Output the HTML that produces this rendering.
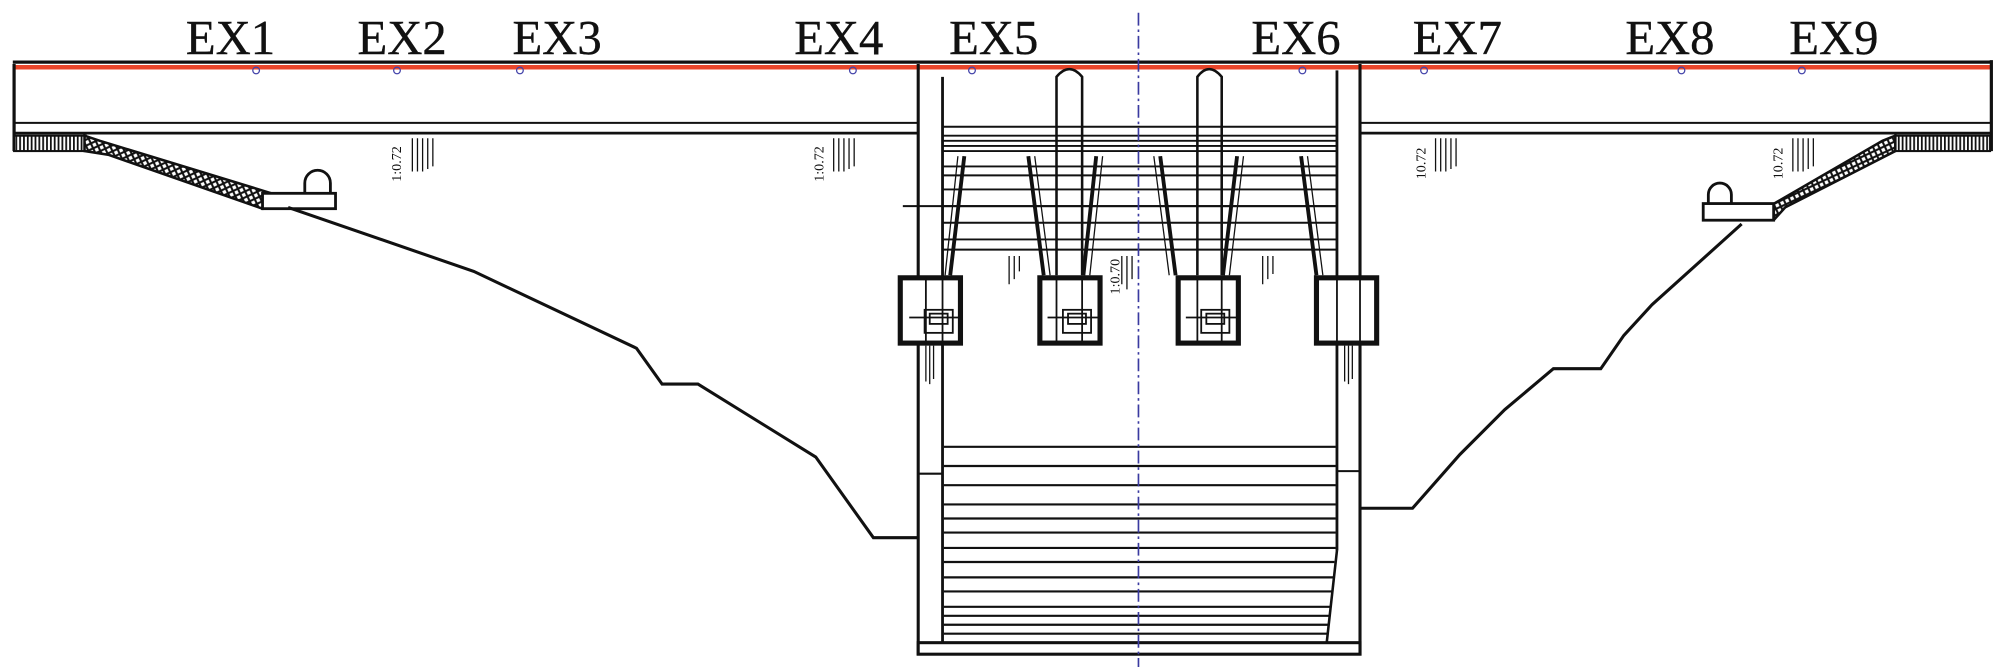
<!DOCTYPE html>
<html><head><meta charset="utf-8"><style>
html,body{margin:0;padding:0;background:#fff;width:2008px;height:667px;overflow:hidden}
svg{display:block}
text{font-family:"Liberation Serif",serif}
</style></head><body>
<svg width="2008" height="667" viewBox="0 0 1568 521" preserveAspectRatio="none" xmlns="http://www.w3.org/2000/svg">
<defs>
<pattern id="hv" width="3" height="10" patternUnits="userSpaceOnUse"><rect width="3" height="10" fill="#fff"/><rect width="1.4" height="10" fill="#111"/></pattern>
<pattern id="hx" width="6" height="6" patternUnits="userSpaceOnUse" patternTransform="rotate(20)"><rect width="6" height="6" fill="#fff"/><path d="M0 0L6 6M6 0L0 6" stroke="#111" stroke-width="1.6"/></pattern>
</defs>
<g fill="#111" font-size="38" stroke="#111" stroke-width="0.3">
<text x="180" y="42" text-anchor="middle">EX1</text>
<text x="314" y="42" text-anchor="middle">EX2</text>
<text x="435" y="42" text-anchor="middle">EX3</text>
<text x="655" y="42" text-anchor="middle">EX4</text>
<text x="776" y="42" text-anchor="middle">EX5</text>
<text x="1012" y="42" text-anchor="middle">EX6</text>
<text x="1138" y="42" text-anchor="middle">EX7</text>
<text x="1304" y="42" text-anchor="middle">EX8</text>
<text x="1432" y="42" text-anchor="middle">EX9</text>
</g>
<g stroke="#111" fill="none" stroke-width="1.6">
<line x1="10" y1="48.5" x2="1556" y2="48.5" stroke-width="2.5"/>
<line x1="10" y1="52.5" x2="1556" y2="52.5" stroke="#e8452a" stroke-width="3.5"/>
<line x1="11" y1="50" x2="11" y2="118" stroke-width="2.5"/>
<line x1="1555" y1="47" x2="1555" y2="118" stroke-width="2.5"/>
<line x1="11" y1="96" x2="717" y2="96"/><line x1="11" y1="104" x2="717" y2="104" stroke-width="2.2"/>
<line x1="1062" y1="96" x2="1555" y2="96"/><line x1="1062" y1="104" x2="1555" y2="104" stroke-width="2.2"/>
<rect x="11" y="106" width="56" height="12" fill="url(#hv)"/>
<rect x="1480" y="106" width="74" height="12" fill="url(#hv)"/>
<path d="M66 106 L78 110 L212 151 L205 163 L85 121 L66 118Z" fill="url(#hx)" stroke-width="2"/>
<path d="M1480 106 L1470 110 L1363 172 L1385 172 L1394 162 L1480 118Z" fill="url(#hx)" stroke-width="2"/>
<rect x="205" y="151" width="57" height="12" fill="#fff" stroke-width="2.2"/>
<path d="M238 151 V143 A10 10 0 0 1 258 143 V151" stroke-width="2.2"/>
<rect x="1330" y="159" width="55" height="13" fill="#fff" stroke-width="2.2"/>
<path d="M1334 159 V152 A9 9 0 0 1 1352 152 V159" stroke-width="2.2"/>
<polyline points="225,162 370,212 497,272 517,300 545,300 637,357 682,420 717,420" stroke-width="2.4"/>
<polyline points="1062,397 1103,397 1140,355 1175,320 1213,288 1250,288 1268,262 1290,238 1360,175" stroke-width="2.4"/>
<g stroke-width="1">
<path d="M322 108v26M326 108v26M330 108v26M334 108v24M338 108v22"/>
<path d="M651 108v26M655 108v26M659 108v26M663 108v24M667 108v22"/>
<path d="M1121 108v26M1125 108v26M1129 108v26M1133 108v24M1137 108v22"/>
<path d="M1400 108v26M1404 108v26M1408 108v26M1412 108v24M1416 108v22"/>
</g>
<line x1="717" y1="50" x2="717" y2="512" stroke-width="2.4"/>
<line x1="736" y1="60" x2="736" y2="502" stroke-width="2.2"/>
<line x1="1062" y1="50" x2="1062" y2="512" stroke-width="2.4"/>
<line x1="1044" y1="55" x2="1044" y2="430" stroke-width="2.2"/>
<line x1="717" y1="370" x2="736" y2="370"/>
<line x1="1044" y1="368" x2="1062" y2="368"/>
<path d="M825 215 V60 Q835 48 845 60 V215" stroke-width="2"/>
<path d="M935 215 V60 Q944 48 954 60 V215" stroke-width="2"/>
<g stroke-width="1.5">
<path d="M736 99H1044M736 106H1044M736 110H1044M736 114H1044M736 118H1044"/>
<path d="M736 130H1044M736 137H1044M736 148H1044M736 161H1044M736 174H1044M736 187H1044M736 195H1044"/>
<line x1="705" y1="161" x2="1044" y2="161"/>
</g>
<g stroke-width="3">
<path d="M753 122 L742 215M803 122 L815 215M856 122 L846 215M906 122 L918 215M966 122 L955 215M1016 122 L1028 215"/>
</g>
<g stroke-width="1"><path d="M748 122 L738 215M808 122 L820 215M861 122 L851 215M901 122 L913 215M971 122 L960 215M1021 122 L1033 215"/></g>
<g stroke-width="1"><path d="M788 200v22M792 200v18M796 200v12M876 200v22M880 200v26M884 200v18M986 200v22M990 200v18M994 200v14M723 270v28M726 270v30M729 270v26M1050 270v28M1053 270v30M1056 270v26"/></g>
<g stroke-width="4" fill="#fff">
<rect x="703" y="217" width="47" height="51"/>
<rect x="812" y="217" width="47" height="51"/>
<rect x="920" y="217" width="47" height="51"/>
<rect x="1028" y="217" width="47" height="51"/>
</g>
<g stroke-width="1.4">
<path d="M723 217V268M736 217V268M825 217V268M845 217V268M935 217V268M954 217V268M1044 217V268M1062 217V268"/>
<rect x="722" y="242" width="22" height="18"/><rect x="726" y="245" width="14" height="8"/>
<rect x="830" y="242" width="22" height="18"/><rect x="834" y="245" width="14" height="8"/>
<rect x="938" y="242" width="22" height="18"/><rect x="942" y="245" width="14" height="8"/>
<path d="M710 248H750M818 248H859M926 248H967"/>
</g>
<g stroke-width="1.7">
<path d="M737 349H1043M737 364H1043M737 379H1043M737 394H1043M737 405H1043M737 416H1043M737 428H1043M737 439H1042M737 451H1041M737 462H1040M737 474H1039M737 481H1038M737 488H1037M737 495H1036"/>
<path d="M1044 430 L1036 502" stroke-width="2"/>
</g>
<rect x="717" y="502" width="345" height="9" fill="#fff" stroke-width="2.4"/>
</g>
<line x1="889" y1="10" x2="889" y2="521" stroke="#3a3aa0" stroke-width="1.3" stroke-dasharray="10,3,2,3"/>
<g fill="none" stroke="#4444aa" stroke-width="1">
<circle cx="200" cy="55" r="2.6"/><circle cx="310" cy="55" r="2.6"/><circle cx="406" cy="55" r="2.6"/><circle cx="666" cy="55" r="2.6"/><circle cx="759" cy="55" r="2.6"/><circle cx="1017" cy="55" r="2.6"/><circle cx="1112" cy="55" r="2.6"/><circle cx="1313" cy="55" r="2.6"/><circle cx="1407" cy="55" r="2.6"/>
</g>
<g fill="#111" font-size="11">
<text transform="translate(313,142) rotate(-90)">1:0.72</text>
<text transform="translate(643,142) rotate(-90)">1:0.72</text>
<text transform="translate(1113,140) rotate(-90)">10.72</text>
<text transform="translate(1392,140) rotate(-90)">10.72</text>
<text transform="translate(874,230) rotate(-90)">1:0.70</text>
</g>
</svg>
</body></html>
